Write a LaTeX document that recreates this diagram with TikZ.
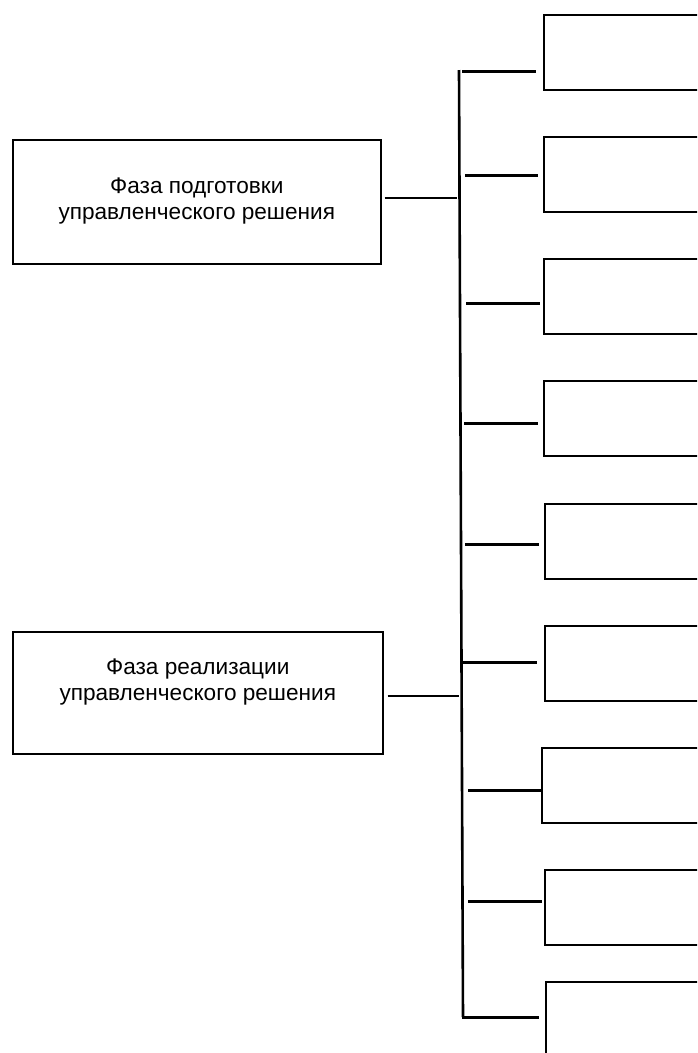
\documentclass[tikz,border=0pt]{standalone}
\usepackage{fontspec}
\setmainfont{Liberation Sans}
\usetikzlibrary{calc}
\begin{document}
\begin{tikzpicture}[x=1pt,y=-1pt,
  phase/.style={draw,line width=1.6pt,anchor=north west,inner sep=0pt},
  phasetext/.style={align=center,font=\fontsize{22.6}{26.5}\selectfont},
  stage/.style={draw,line width=2.4pt,anchor=north west,minimum width=200pt,minimum height=75pt,inner sep=0pt},
  conn/.style={line width=3pt},
  lconn/.style={line width=2.4pt},
  spine/.style={line width=2.6pt}]
\useasboundingbox (0,0) rectangle (697,1053);
\clip (0,0) rectangle (697,1053);

% phases on the left
\node[phase,minimum width=368pt,minimum height=124pt] (p1) at (12,139) {};
\node[phasetext] (t1) at ($(p1.center)+(0,-1)$) {Фаза подготовки\\управленческого решения};
\node[phase,minimum width=370pt,minimum height=122pt] (p2) at (12,631) {};
\node[phasetext] (t2) at ($(p2.center)+(0,-11)$) {Фаза реализации\\управленческого решения};

% stages on the right
\node[stage] (r1) at (543,14) {};
\node[stage] (r2) at (543,136) {};
\node[stage] (r3) at (543,258) {};
\node[stage] (r4) at (543,380) {};
\node[stage] (r5) at (544,503) {};
\node[stage] (r6) at (544,625) {};
\node[stage] (r7) at (541,747) {};
\node[stage] (r8) at (544,869) {};
\node[stage,minimum height=120pt] (r9) at (545,981) {};

% vertical bus
\coordinate (stop) at (459,70);
\coordinate (sbot) at (463,1017);
\draw[spine] (stop) -- (sbot);

% branch starts
\coordinate (a1) at (462,71);
\coordinate (a2) at (465,175);
\coordinate (a3) at (466,303);
\coordinate (a4) at (464,423);
\coordinate (a5) at (465,544);
\coordinate (a6) at (463,662);
\coordinate (a7) at (468,790);
\coordinate (a8) at (468,901);
\coordinate (a9) at (462,1017);

\draw[conn,shorten >=7pt] (a1) -- (a1 -| r1.west);
\draw[conn,shorten >=5pt] (a2) -- (a2 -| r2.west);
\draw[conn,shorten >=3pt] (a3) -- (a3 -| r3.west);
\draw[conn,shorten >=5pt] (a4) -- (a4 -| r4.west);
\draw[conn,shorten >=5pt] (a5) -- (a5 -| r5.west);
\draw[conn,shorten >=7pt] (a6) -- (a6 -| r6.west);
\draw[conn] (a7) -- (a7 -| r7.west);
\draw[conn,shorten >=2pt] (a8) -- (a8 -| r8.west);
\draw[conn,shorten >=6pt] (a9) -- (a9 -| r9.west);

% phase links to the bus
\coordinate (b1) at (457,198);
\coordinate (b2) at (459,696);
\draw[lconn,shorten <=3pt] (p1.east |- b1) -- (b1);
\draw[lconn,shorten <=4pt] (p2.east |- b2) -- (b2);
\end{tikzpicture}
\end{document}
